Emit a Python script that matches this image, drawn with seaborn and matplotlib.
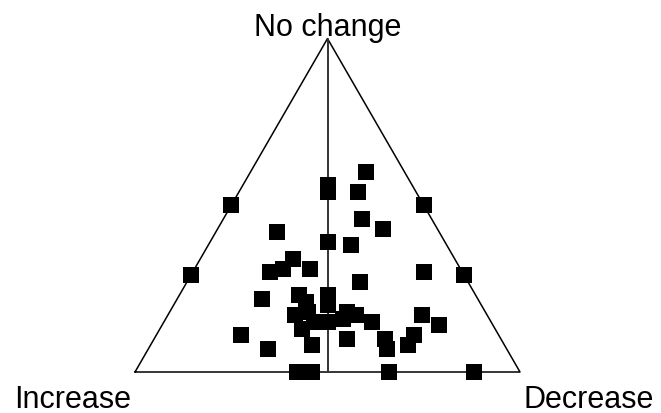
import numpy as np
import pandas as pd
import matplotlib
matplotlib.use("Agg")
import matplotlib.pyplot as plt
import seaborn as sns

# Ternary compositions (fractions) for each observation
increase = [0.10, 0.22, 0.23, 0.15, 0.50, 0.00, 0.18, 0.14, 0.42, 0.305,
            0.25, 0.42, 0.46, 0.50, 0.39, 0.71, 0.10, 0.00, 0.28, 0.56,
            0.46, 0.45, 0.385, 0.40, 0.46, 0.36, 0.50, 0.46, 0.425, 0.38,
            0.34, 0.31, 0.17, 0.14, 0.50, 0.67, 0.62, 0.50, 0.40, 0.30,
            0.31, 0.22, 0.25, 0.58, 0.54, 0.34, 0.12]
no_change = [0.60, 0.56, 0.54, 0.54, 0.50, 0.50, 0.46, 0.43, 0.42, 0.39,
             0.38, 0.34, 0.31, 0.30, 0.31, 0.29, 0.30, 0.29, 0.27, 0.22,
             0.23, 0.21, 0.23, 0.20, 0.18, 0.18, 0.17, 0.15, 0.15, 0.16,
             0.17, 0.15, 0.17, 0.14, 0.13, 0.11, 0.07, 0.08, 0.10, 0.10,
             0.07, 0.11, 0.08, 0.00, 0.00, 0.00, 0.00]
decrease = [0.30, 0.22, 0.23, 0.31, 0.00, 0.50, 0.36, 0.43, 0.16, 0.305,
            0.37, 0.24, 0.23, 0.20, 0.30, 0.00, 0.60, 0.71, 0.45, 0.22,
            0.31, 0.34, 0.385, 0.40, 0.36, 0.46, 0.33, 0.39, 0.425, 0.46,
            0.49, 0.54, 0.66, 0.72, 0.37, 0.22, 0.31, 0.42, 0.50, 0.60,
            0.62, 0.67, 0.67, 0.42, 0.46, 0.66, 0.88]

corner_labels = ["Increase", "Decrease", "No change"]

H = np.sqrt(3) / 2
inc = np.array(increase)
nc = np.array(no_change)
dec = np.array(decrease)
tot = inc + nc + dec
df = pd.DataFrame({
    "x": (dec + 0.5 * nc) / tot,
    "y": (nc * H) / tot,
})

sns.set_theme(style="white")
plt.rcParams["font.family"] = ["Liberation Sans", "DejaVu Sans"]
plt.rcParams["text.color"] = "black"

fig = plt.figure(figsize=(6.61, 4.14), dpi=100)
ax = fig.add_axes([0, 0, 1, 1])
ax.set_xlim(-135 / 385, 526 / 385)
ax.set_ylim(-41 / 385, 373 / 385)
ax.axis("off")

# triangle frame and central divider
ax.plot([0, 1, 0.5, 0], [0, 0, H, 0], color="black", lw=1.1, zorder=1)
ax.plot([0.5, 0.5], [0, H], color="#333333", lw=1.4, zorder=1)

sns.scatterplot(data=df, x="x", y="y", marker="s", s=117, color="black",
                linewidth=0, ax=ax, zorder=3, legend=False)

fs = 22
ax.text(0.5, 0.875, corner_labels[2], ha="center", va="baseline",
        fontsize=fs, color="black")
ax.text(-0.1623, -0.0909, corner_labels[0], ha="center", va="baseline",
        fontsize=fs, color="black")
ax.text(1.178, -0.0909, corner_labels[1], ha="center", va="baseline",
        fontsize=fs, color="black")

fig.savefig("out.png", dpi=100)
